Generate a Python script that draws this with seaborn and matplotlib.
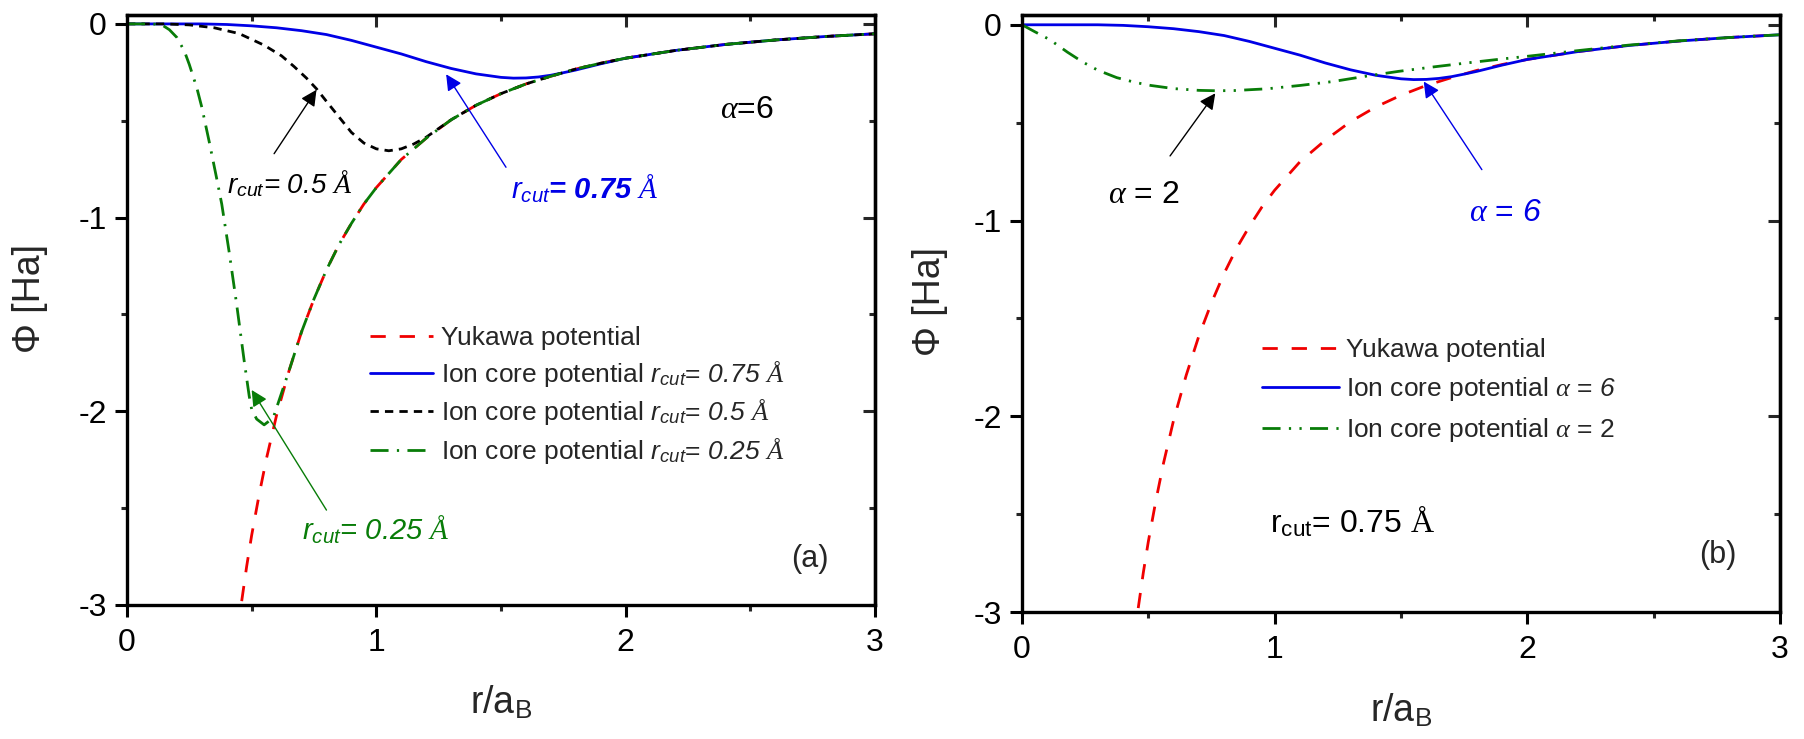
import matplotlib
matplotlib.use("Agg")
import matplotlib.pyplot as plt
from matplotlib.ticker import MultipleLocator
import seaborn as sns

# Yukawa potential (same in both panels)
r_yukawa = [0.46, 0.48, 0.50, 0.53, 0.56, 0.60, 0.65, 0.70, 0.75, 0.80, 0.85, 0.90,
            0.95, 1.00, 1.10, 1.20, 1.30, 1.40, 1.50, 1.60, 1.70, 1.80, 1.90, 2.00,
            2.20, 2.40, 2.60, 2.80, 3.00]
phi_yukawa = [-2.98, -2.80, -2.64, -2.43, -2.24, -2.02, -1.79, -1.59, -1.42, -1.27, -1.14, -1.03,
              -0.93, -0.845, -0.70, -0.59, -0.495, -0.42, -0.36, -0.31, -0.27, -0.233, -0.203, -0.177,
              -0.137, -0.106, -0.083, -0.065, -0.051]

# ion core, r_cut = 0.75 A, alpha = 6 (inner part, joins Yukawa at r = 2)
r_core075 = [0.0, 0.30, 0.40, 0.50, 0.60, 0.70, 0.80, 0.90, 1.00, 1.10, 1.20, 1.30,
             1.40, 1.50, 1.55, 1.60, 1.65, 1.70, 1.75, 1.80, 1.90]
phi_core075 = [0.0, 0.0, -0.003, -0.01, -0.02, -0.035, -0.055, -0.085, -0.12, -0.155, -0.195, -0.23,
               -0.258, -0.276, -0.28, -0.279, -0.274, -0.265, -0.252, -0.238, -0.206]

# ion core, r_cut = 0.5 A (joins Yukawa at r = 1.3)
r_core050 = [0.0, 0.15, 0.25, 0.35, 0.45, 0.55, 0.62, 0.67, 0.72, 0.76, 0.80, 0.85,
             0.90, 0.95, 1.00, 1.05, 1.10, 1.15, 1.20]
phi_core050 = [0.0, 0.0, -0.005, -0.02, -0.05, -0.11, -0.165, -0.22, -0.28, -0.335, -0.40, -0.48,
               -0.56, -0.615, -0.645, -0.655, -0.645, -0.62, -0.585]

# ion core, r_cut = 0.25 A (joins Yukawa at r = 0.65)
r_core025 = [0.0, 0.10, 0.14, 0.17, 0.20, 0.23, 0.25, 0.28, 0.30, 0.33, 0.36, 0.38,
             0.41, 0.44, 0.47, 0.49, 0.50, 0.52, 0.55, 0.57, 0.59]
phi_core025 = [0.0, 0.0, -0.005, -0.03, -0.07, -0.14, -0.21, -0.33, -0.43, -0.61, -0.80, -0.93,
               -1.18, -1.45, -1.74, -1.92, -1.99, -2.04, -2.07, -2.05, -2.02]

# ion core, r_cut = 0.75 A, alpha = 2 (panel b)
r_alpha2 = [0.0, 0.05, 0.11, 0.18, 0.24, 0.30, 0.375, 0.45, 0.51, 0.60, 0.70, 0.77,
            0.84, 0.97, 1.10, 1.23, 1.36, 1.49, 1.63, 1.76, 1.89, 2.00, 2.20, 2.40,
            2.60, 2.80, 3.00]
phi_alpha2 = [0.0, -0.035, -0.076, -0.14, -0.19, -0.232, -0.27, -0.295, -0.31, -0.326, -0.335, -0.337,
              -0.336, -0.327, -0.31, -0.29, -0.263, -0.238, -0.215, -0.195, -0.176, -0.161, -0.132, -0.104,
              -0.082, -0.065, -0.051]


def join_yukawa(r_in, phi_in, r_from):
    r_out = list(r_in) + [r for r in r_yukawa if r >= r_from]
    phi_out = list(phi_in) + [p for r, p in zip(r_yukawa, phi_yukawa) if r >= r_from]
    return r_out, phi_out


r075, p075 = join_yukawa(r_core075, phi_core075, 2.0)
r050, p050 = join_yukawa(r_core050, phi_core050, 1.3)
r025, p025 = join_yukawa(r_core025, phi_core025, 0.65)

RED = "#f00000"
BLUE = "#0000e6"
GREEN = "#087c08"
BLACK = "#000000"

sns.set_theme(style="ticks")
plt.rcParams["font.family"] = ["Liberation Sans", "DejaVu Sans"]
plt.rcParams["mathtext.fontset"] = "custom"
plt.rcParams["mathtext.rm"] = "Liberation Sans"
plt.rcParams["mathtext.it"] = "Liberation Serif:italic"
plt.rcParams["mathtext.sf"] = "Liberation Sans:italic"
plt.rcParams["mathtext.tt"] = "Liberation Serif"
plt.rcParams["mathtext.bf"] = "Liberation Sans:bold"

W, H = 1804, 739
fig = plt.figure(figsize=(W / 100, H / 100), dpi=100)
ax_a = fig.add_axes([127 / W, 1 - 605 / H, (875 - 127) / W, (605 - 15) / H])
ax_b = fig.add_axes([1022 / W, 1 - 612 / H, (1780 - 1022) / W, (612 - 15) / H])

LW = 2.0
ls_yuk = (0, (5.5, 5))
ls_dash = (0, (3, 2.2))
ls_dashdot = (0, (6.5, 3, 0.8, 3))
ls_dashdotdot = (0, (6.5, 3, 0.8, 3, 0.8, 3))

# panel (a)
sns.lineplot(x=r_yukawa, y=phi_yukawa, ax=ax_a, color=RED, lw=LW, linestyle=ls_yuk,
             estimator=None, sort=False)
sns.lineplot(x=r075, y=p075, ax=ax_a, color=BLUE, lw=LW, linestyle="-",
             estimator=None, sort=False)
sns.lineplot(x=r050, y=p050, ax=ax_a, color=BLACK, lw=LW, linestyle=ls_dash,
             estimator=None, sort=False)
sns.lineplot(x=r025, y=p025, ax=ax_a, color=GREEN, lw=LW, linestyle=ls_dashdot,
             estimator=None, sort=False)

# panel (b)
sns.lineplot(x=r_yukawa, y=phi_yukawa, ax=ax_b, color=RED, lw=LW, linestyle=ls_yuk,
             estimator=None, sort=False)
sns.lineplot(x=r075, y=p075, ax=ax_b, color=BLUE, lw=LW, linestyle="-",
             estimator=None, sort=False)
sns.lineplot(x=r_alpha2, y=phi_alpha2, ax=ax_b, color=GREEN, lw=LW, linestyle=ls_dashdotdot,
             estimator=None, sort=False)

labels_a = [
    "Yukawa potential",
    r"Ion core potential $\mathsf{r}_{\mathsf{cut}}$= $\mathsf{0.75}$ $\mathit{Å}$",
    r"Ion core potential $\mathsf{r}_{\mathsf{cut}}$= $\mathsf{0.5}$ $\mathit{Å}$",
    r"Ion core potential $\mathsf{r}_{\mathsf{cut}}$= $\mathsf{0.25}$ $\mathit{Å}$",
]
labels_b = [
    "Yukawa potential",
    r"Ion core potential $\alpha$ = $\mathsf{6}$",
    r"Ion core potential $\alpha$ = 2",
]

ax_a.legend(ax_a.lines[:4], labels_a, loc="upper left", bbox_to_anchor=(0.975, -1.56),
            bbox_transform=ax_a.transData, frameon=False, fontsize=19,
            handlelength=2.4, handletextpad=0.3, labelspacing=0.33,
            borderpad=0, borderaxespad=0)
ax_b.legend(ax_b.lines[:3], labels_b, loc="upper left", bbox_to_anchor=(0.95, -1.60),
            bbox_transform=ax_b.transData, frameon=False, fontsize=19,
            handlelength=2.9, handletextpad=0.3, labelspacing=0.5,
            borderpad=0, borderaxespad=0)

# annotations, panel (a)
arrow = dict(arrowstyle="-|>", lw=1.0, mutation_scale=24, shrinkA=0, shrinkB=0)
ax_a.annotate("", xy=(0.76, -0.34), xytext=(0.59, -0.67),
              arrowprops=dict(arrow, color=BLACK))
ax_a.annotate("", xy=(1.28, -0.26), xytext=(1.52, -0.74),
              arrowprops=dict(arrow, color=BLUE))
ax_a.annotate("", xy=(0.50, -1.89), xytext=(0.80, -2.51),
              arrowprops=dict(arrow, color=GREEN))
ax_a.text(0.40, -0.873, r"$\mathsf{r}_{\mathsf{cut}}$" + "= 0.5 " + r"$\mathit{Å}$",
          fontsize=20, style="italic", color=BLACK, va="baseline", ha="left")
ax_a.text(1.54, -0.905, r"$\mathsf{r}_{\mathsf{cut}}$" + "= 0.75 " + r"$\mathit{Å}$",
          fontsize=21, style="italic", weight="bold", color=BLUE, va="baseline", ha="left")
ax_a.text(0.70, -2.664, r"$\mathsf{r}_{\mathsf{cut}}$" + "= 0.25 " + r"$\mathit{Å}$",
          fontsize=21, style="italic", color=GREEN, va="baseline", ha="left")
ax_a.text(2.38, -0.485, r"$\alpha$=$\mathit{6}$", fontsize=23, color=BLACK,
          va="baseline", ha="left")
ax_a.text(2.665, -2.76, "(a)", fontsize=22, va="center", ha="left")

# annotations, panel (b)
ax_b.annotate("", xy=(0.765, -0.35), xytext=(0.586, -0.67),
              arrowprops=dict(arrow, color=BLACK))
ax_b.annotate("", xy=(1.59, -0.29), xytext=(1.82, -0.74),
              arrowprops=dict(arrow, color=BLUE))
ax_b.text(0.34, -0.908, r"$\alpha$ = 2", fontsize=23, color=BLACK,
          va="baseline", ha="left")
ax_b.text(1.77, -1.0, r"$\alpha$ = $\mathsf{6}$", fontsize=23, color=BLUE,
          va="baseline", ha="left")
ax_b.text(0.98, -2.593, r"r$_{\mathrm{cut}}$= 0.75 $\mathtt{Å}$", fontsize=23,
          color=BLACK, va="baseline", ha="left")
ax_b.text(2.68, -2.707, "(b)", fontsize=22, va="center", ha="left")

for ax, top, ylab_x in ((ax_a, 0.046, -0.105), (ax_b, 0.05, -0.098)):
    ax.set_xlim(0, 3)
    ax.set_ylim(-3, top)
    ax.xaxis.set_minor_locator(MultipleLocator(0.5))
    ax.yaxis.set_minor_locator(MultipleLocator(0.5))
    ax.set_xticks([0, 1, 2, 3])
    ax.set_xticklabels(["0", "1", "2", "3"])
    ax.set_yticks([0, -1, -2, -3])
    ax.set_yticklabels(["0", "-1", "-2", "-3"])
    ax.tick_params(which="major", direction="out", length=8.5, width=2.2,
                   labelsize=23, color="black", labelcolor="black")
    ax.tick_params(axis="x", which="major", pad=8)
    ax.tick_params(axis="y", which="major", pad=6)
    ax.tick_params(which="minor", direction="out", length=4.5, width=2.2)
    for side in ("top", "right", "bottom", "left"):
        ax.spines[side].set_visible(True)
        ax.spines[side].set_linewidth(2.4)
        ax.spines[side].set_color("black")
    ax.set_facecolor("white")
    ax.grid(False)

    sec_x = ax.secondary_xaxis("top")
    sec_x.set_xticks([1, 2])
    sec_x.xaxis.set_minor_locator(MultipleLocator(0.5))
    sec_x.tick_params(which="major", direction="in", length=8.5, width=2.2, labeltop=False)
    sec_x.tick_params(which="minor", direction="in", length=4.5, width=2.2)
    sec_x.spines["top"].set_linewidth(2.4)
    sec_y = ax.secondary_yaxis("right")
    sec_y.set_yticks([-1, -2, 0])
    sec_y.yaxis.set_minor_locator(MultipleLocator(0.5))
    sec_y.tick_params(which="major", direction="in", length=8.5, width=2.2, labelright=False)
    sec_y.tick_params(which="minor", direction="in", length=4.5, width=2.2)
    sec_y.spines["right"].set_linewidth(2.4)

    ax.set_xlabel(r"r/a$_{\mathrm{B}}$", fontsize=27)
    ax.set_ylabel("Φ [Ha]", fontsize=27)
    ax.xaxis.set_label_coords(0.5, -0.135)
    ax.yaxis.set_label_coords(ylab_x, 0.52)

fig.savefig("out.png", dpi=100, facecolor="white")
